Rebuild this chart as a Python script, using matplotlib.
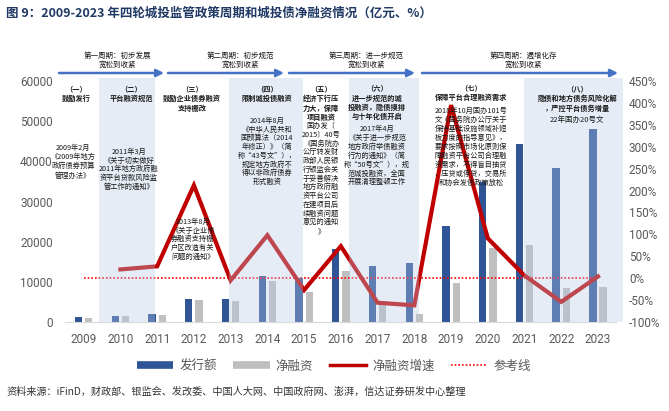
import matplotlib
matplotlib.use("Agg")
import matplotlib.pyplot as plt
from matplotlib.lines import Line2D
from matplotlib.patches import FancyArrowPatch

CJK = ["Noto Sans CJK SC", "DejaVu Sans"]
plt.rcParams["font.family"] = CJK

# ---- data (亿元 / %) ----
years = [2009, 2010, 2011, 2012, 2013, 2014, 2015, 2016, 2017, 2018, 2019, 2020, 2021, 2022, 2023]
issuance = [1200, 1500, 2000, 5700, 5700, 11450, 10900, 18100, 13950, 14600, 23900, 34900, 44300, 38400, 48000]
net_financing = [1000, 1500, 1700, 5500, 5200, 10200, 7500, 12700, 5200, 1900, 9600, 18300, 19200, 8400, 8600]
growth_years = years[1:]
growth = [20, 27, 212, -5, 98, -27, 73, -56, -62, 395, 91, 6, -54, 4]
reference = [0] * len(years)

left_ticks = [0, 10000, 20000, 30000, 40000, 50000, 60000]
right_ticks = [-100, -50, 0, 50, 100, 150, 200, 250, 300, 350, 400, 450]

# shaded policy phases (year units)
bands = [(2009.42, 2010.94), (2012.96, 2014.97), (2016.22, 2018.13), (2020.98, 2023.68)]

C_ISSUE = "#2f5597"
C_NET = "#bfbfbf"
C_GROWTH = "#c00000"
C_REF = "#ff0000"
C_TICK = "#595959"

W, H = 669, 411
fig = plt.figure(figsize=(W / 100, H / 100), dpi=100)
ax = fig.add_axes([65.3 / W, 1 - 322 / H, (616.4 - 65.3) / W, (322 - 81) / H])
ax2 = ax.twinx()

ax.bar([y - 0.14 for y in years], issuance, width=0.2, color=C_ISSUE, zorder=2)
ax.bar([y + 0.14 for y in years], net_financing, width=0.2, color=C_NET, zorder=2)

ax2.plot(years, reference, color=C_REF, lw=1.2, linestyle=(0, (1, 1.2)), zorder=2)
ax2.plot(growth_years, growth, color=C_GROWTH, lw=3, solid_joinstyle="miter", zorder=3)

for x0, x1 in bands:
    ax2.axvspan(x0, x1, ymin=0, ymax=1.012, color="#b8c9e5", alpha=0.35, lw=0,
                zorder=5, clip_on=False)

ax.set_xlim(2008.5, 2023.5)
ax.set_ylim(0, 60000)
ax2.set_ylim(-100, 450)
ax.set_xticks(years)
ax.set_xticklabels([str(y) for y in years])
ax.set_yticks(left_ticks)
ax.set_yticklabels([str(t) for t in left_ticks])
ax2.set_yticks(right_ticks)
ax2.set_yticklabels([f"{t}%" for t in right_ticks])
ax.tick_params(axis="x", length=0, pad=8, labelsize=8.5, labelcolor=C_TICK)
ax.tick_params(axis="y", length=0, pad=9, labelsize=8.5, labelcolor=C_TICK)
ax2.tick_params(axis="y", length=0, pad=9, labelsize=8.5, labelcolor=C_TICK)
for lbl in ax.get_xticklabels() + ax.get_yticklabels() + ax2.get_yticklabels():
    lbl.set_family("Roboto")
for a in (ax, ax2):
    for s in a.spines.values():
        s.set_visible(False)
ax.spines["bottom"].set_visible(True)
ax.spines["bottom"].set_color("#d9d9d9")


def px(x, y):
    return x / W, 1 - y / H


def block(x, y0, text, dy=9.2, bold=False, size=5.2):
    for i, line in enumerate(text.split("\n")):
        fig.text(*px(x, y0 + i * dy), line, ha="center", va="center", fontsize=size,
                 fontweight="bold" if bold else "normal", color="#1a1a1a")


def arrow(x1, x2, y):
    fig.add_artist(FancyArrowPatch(px(x1, y), px(x2, y), transform=fig.transFigure,
                                   arrowstyle="-|>", mutation_scale=11, lw=1.8,
                                   color="#4472c4", shrinkA=0, shrinkB=0))


# period arrows on top
arrow(59, 164, 73)
arrow(168, 284, 73)
arrow(289, 415, 73)
arrow(422, 618, 73)
block(117, 56, "第一周期：初步发展\n宽松到收紧", size=5.4)
block(240, 56, "第二周期：初步规范\n宽松到收紧", size=5.4)
block(366, 56, "第三周期：进一步规范\n宽松到收紧", size=5.4)
block(523, 56, "第四周期：遏增化存\n宽松到收紧", size=5.4)

# phase headers
block(76, 89, "（一）\n鼓励发行", dy=9.6, bold=True)
block(131, 89, "（二）\n平台融资规范", dy=9.6, bold=True)
block(192, 89, "（三）\n鼓励企业债券融资\n支持棚改", dy=9.6, bold=True)
block(267, 89, "（四）\n限制城投债融资", dy=9.6, bold=True)
block(321, 89, "（五）\n经济下行压\n力大，保障\n项目融资", dy=9.4, bold=True)
block(377, 89, "（六）\n进一步规范的城\n投融资，隐债摸排\n与十年化债开启", dy=9.2, bold=True)
block(471, 88, "（七）\n保障平台合理融资需求", dy=9.6, bold=True)
block(577, 89, "（八）\n隐债和地方债务风险化解\n，严控平台债务增量", dy=9.6, bold=True)

# policy documents
block(73, 148, "2009年2月\n《2009年地方\n政府债券预算\n管理办法》")
block(129, 152, "2011年3月\n《关于切实做好\n2011年地方政府融\n资平台贷款风险监\n管工作的通知》", dy=8.6)
block(193, 222, "2013年8月\n《关于企业债\n券融资支持棚\n户区改造有关\n问题的通知》", dy=8.6)
block(267, 121, "2014年8月\n《中华人民共和\n国预算法（2014\n年修正）》（简\n称“43号文”），\n规定地方政府不\n得以非政府债券\n形式融资", dy=8.7)
block(321, 126, "国办发〔\n2015〕40号\n《国务院办\n公厅转发财\n政部人民银\n行银监会关\n于妥善解决\n地方政府融\n资平台公司\n在建项目后\n续融资问题\n意见的通知\n》", dy=8.75)
block(377, 129, "2017年4月\n《关于进一步规范\n地方政府举债融资\n行为的通知》（简\n称“50号文”），规\n范城投融资，全面\n开展清理整顿工作", dy=8.9)
block(471, 111, "2018年10月国办101号\n文《国务院办公厅关于\n保持基础设施领域补短\n板力度的指导意见》，\n要求按照市场化原则保\n障融资平台公司合理融\n资需求，不得盲目抽贷\n、压贷或停贷，交易所\n和协会发债政策放松", dy=9.0)
block(577, 120, "22年国办20号文", size=5.4)

# title and source
fig.text(*px(6, 13), "图 9：2009-2023 年四轮城投监管政策周期和城投债净融资情况（亿元、%）",
         ha="left", va="center", fontsize=9, fontweight="bold", color="#1f3864")
fig.text(*px(6, 392), "资料来源：iFinD，财政部、银监会、发改委、中国人大网、中国政府网、澎湃，信达证券研发中心整理",
         ha="left", va="center", fontsize=7.3, color="#333333", style="italic")

handles = [
    Line2D([], [], color=C_ISSUE, lw=5.5, solid_capstyle="butt"),
    Line2D([], [], color=C_NET, lw=5.5, solid_capstyle="butt"),
    Line2D([], [], color=C_GROWTH, lw=2.5),
    Line2D([], [], color=C_REF, lw=1.2, linestyle=(0, (1, 1.2))),
]
fig.legend(handles, ["发行额", "净融资", "净融资增速", "参考线"], loc="center",
           bbox_to_anchor=px(334, 366), ncol=4, frameon=False, fontsize=9,
           handlelength=2.9, handletextpad=0.5, columnspacing=1.3, labelcolor=C_TICK)

fig.savefig("out.png", dpi=100)
